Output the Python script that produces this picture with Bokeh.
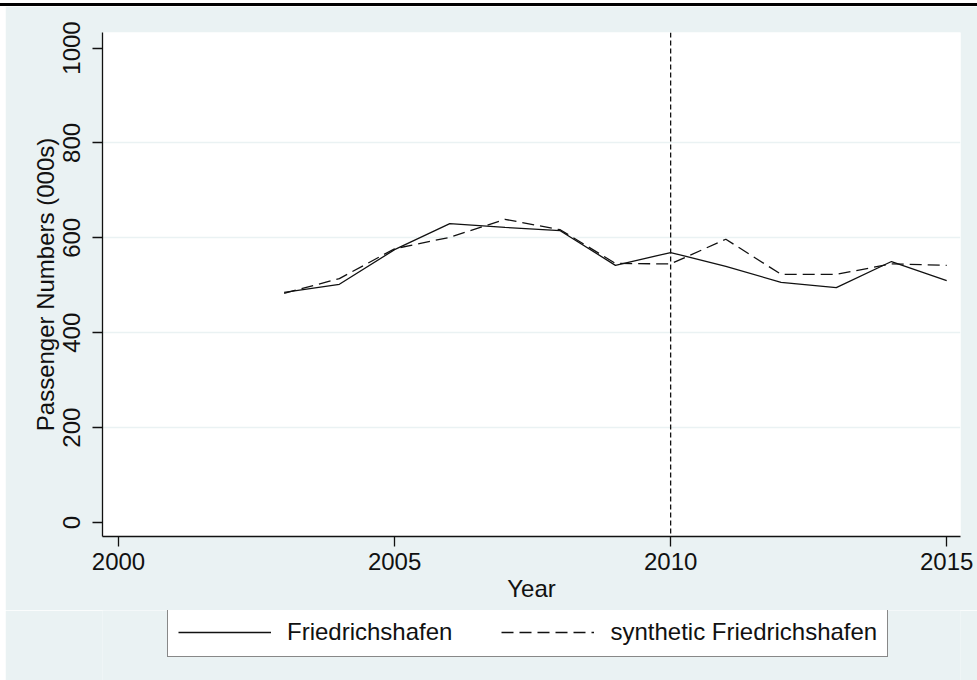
from bokeh.plotting import figure
from bokeh.layouts import column, row
from bokeh.models import Range1d, FixedTicker, Span, Legend, LegendItem, Div
from bokeh.embed import file_html
from bokeh.resources import INLINE

# ---- data ----
years = [2003, 2004, 2005, 2006, 2007, 2008, 2009, 2010, 2011, 2012, 2013, 2014, 2015]
friedrichshafen = [485, 502, 575, 630, 622, 615, 542, 569, 540, 506, 495, 550, 510]
synthetic_friedrichshafen = [483, 514, 577, 601, 639, 617, 546, 545, 597, 523, 523, 545, 542]
x_ticks = [2000, 2005, 2010, 2015]
y_ticks = [0, 200, 400, 600, 800, 1000]
grid_ticks = [200, 400, 600, 800]
intervention_year = 2010
series_labels = ["Friedrichshafen", "synthetic Friedrichshafen"]

FONT = "Liberation Sans"
BG = "#EAF2F3"
INK = "#111111"
W_PAGE = 977
LEFT_GAP = 5
W = W_PAGE - LEFT_GAP
H_MAIN = 604
H_LEG = 70
BL, BR = 102 - LEFT_GAP, 17


def block(width, height, color):
    return Div(text="", width=width, height=height, margin=(0, 0, 0, 0),
               styles={"background-color": color})


p = figure(width=W, height=H_MAIN, output_backend="svg", toolbar_location=None,
           x_range=Range1d(1999.71, 2015.25), y_range=Range1d(-29.5, 1032.7),
           min_border_left=BL, min_border_right=BR, min_border_top=26,
           min_border_bottom=H_MAIN - 530)
p.background_fill_color = "white"
p.border_fill_color = BG
p.outline_line_color = None

for ax in (p.xaxis[0], p.yaxis[0]):
    ax.axis_line_color = INK
    ax.axis_line_width = 1.3
    ax.major_tick_line_color = INK
    ax.major_tick_line_width = 1.3
    ax.major_tick_in = 0
    ax.major_tick_out = 10
    ax.minor_tick_line_color = None
    ax.major_label_text_font = FONT
    ax.major_label_text_font_size = "24px"
    ax.major_label_text_color = INK
    ax.axis_label_text_font = FONT
    ax.axis_label_text_font_size = "24px"
    ax.axis_label_text_font_style = "normal"
    ax.axis_label_text_color = INK

p.xaxis.ticker = FixedTicker(ticks=x_ticks)
p.yaxis.ticker = FixedTicker(ticks=y_ticks)
p.xaxis.axis_label = "Year"
p.yaxis.axis_label = "Passenger Numbers (000s)"
p.yaxis.major_label_orientation = "vertical"
p.xaxis.major_label_standoff = 6
p.xaxis.axis_label_standoff = 2
p.yaxis.major_label_standoff = 12
p.yaxis.axis_label_standoff = 2

p.xgrid.visible = False
p.ygrid.ticker = FixedTicker(ticks=grid_ticks)
p.ygrid.grid_line_color = BG
p.ygrid.grid_line_width = 1.5

p.line(years, friedrichshafen, line_color=INK, line_width=1.3)
p.line(years, synthetic_friedrichshafen, line_color=INK, line_width=1.3, line_dash="12 6")

p.add_layout(Span(location=intervention_year, dimension="height",
                  line_color=INK, line_width=1.3, line_dash="5 3"))

# ---- legend strip (separate figure so the key is not clipped by the plot frame) ----
lg = figure(width=W, height=H_LEG, output_backend="svg", toolbar_location=None,
            x_range=Range1d(0, 1), y_range=Range1d(0, 1),
            x_axis_location=None, y_axis_location=None,
            min_border=0, min_border_left=BL, min_border_right=BR,
            min_border_top=0, min_border_bottom=0)
lg.background_fill_color = BG
lg.border_fill_color = BG
lg.outline_line_color = None
lg.grid.visible = False
# keys only: drawn off-range so they never show inside this strip
k1 = lg.line([years[0], years[-1]], [friedrichshafen[0], friedrichshafen[-1]],
             line_color=INK, line_width=1.3)
k2 = lg.line([years[0], years[-1]], [synthetic_friedrichshafen[0], synthetic_friedrichshafen[-1]],
             line_color=INK, line_width=1.3, line_dash="12 6")

legend = Legend(items=[LegendItem(label=series_labels[0], renderers=[k1]),
                       LegendItem(label=series_labels[1], renderers=[k2])],
                orientation="horizontal", location=(65, 23))
legend.border_line_color = INK
legend.border_line_width = 1.3
legend.background_fill_color = "white"
legend.background_fill_alpha = 1.0
legend.padding = 10
legend.spacing = 49
legend.margin = 0
legend.glyph_width = 93
legend.glyph_height = 24
legend.label_height = 24
legend.label_standoff = 16
legend.label_text_font = FONT
legend.label_text_font_size = "24px"
legend.label_text_color = INK
legend.click_policy = "none"
lg.add_layout(legend, "center")

layout = column(
    block(W_PAGE, 3, "white"),
    block(W_PAGE, 3, "black"),
    row(block(LEFT_GAP, H_MAIN + H_LEG, "white"), column(p, lg, spacing=0), spacing=0),
    spacing=0,
)
open("out.html", "w").write(file_html(layout, INLINE))
